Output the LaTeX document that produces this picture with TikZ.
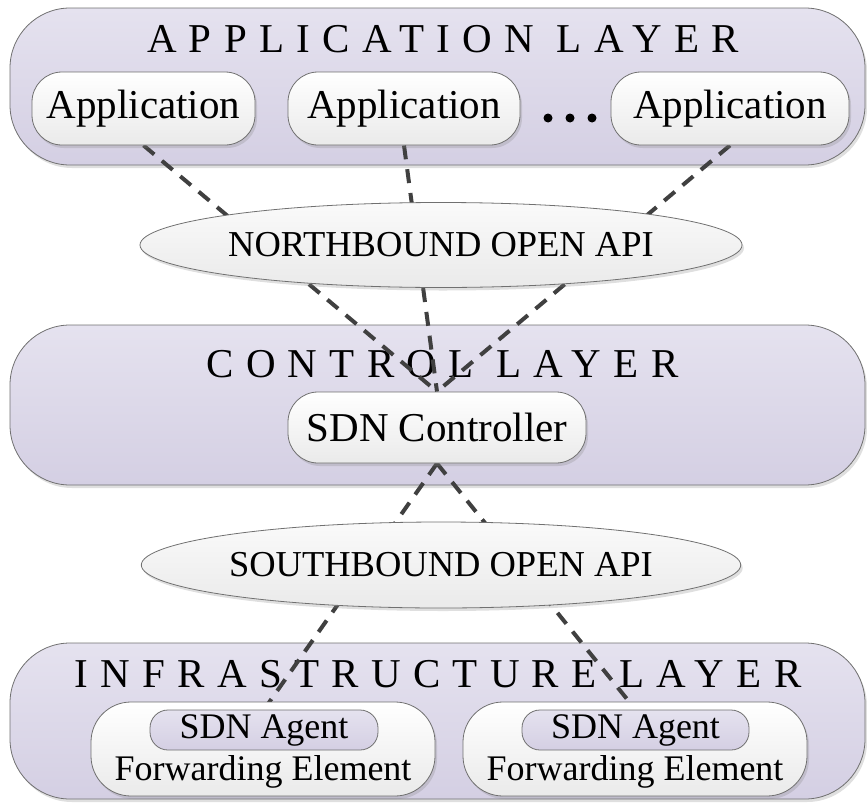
\documentclass[tikz,border=0pt]{standalone}
\usepackage{fontspec}
\setmainfont{Liberation Serif}
\usetikzlibrary{shapes.geometric, positioning, shadows}

\pgfdeclarelayer{bg}
\pgfdeclarelayer{links}
\pgfsetlayers{bg,links,main}

\definecolor{layertop}{RGB}{229,226,239}
\definecolor{layerbot}{RGB}{212,207,227}
\definecolor{edgegray}{RGB}{112,112,112}
\definecolor{pillbot}{RGB}{234,234,234}
\definecolor{ovaltop}{RGB}{250,250,250}
\definecolor{ovalbot}{RGB}{234,234,234}
\definecolor{linkgray}{RGB}{64,64,64}

\newcommand{\titlefont}{\fontsize{41}{45}\selectfont\addfontfeature{LetterSpace=30}}
\newcommand{\bigfont}{\fontsize{41}{45}\selectfont}
\newcommand{\apifont}{\fontsize{36.5}{40}\selectfont}
\newcommand{\fefont}{\fontsize{36}{40}\selectfont}

\begin{document}
\begin{tikzpicture}[
    x=1pt, y=-1pt,
    softshadow/.style={drop shadow={shadow xshift=2pt, shadow yshift=-3pt, opacity=0.25}},
    layer/.style={draw=edgegray, line width=0.8pt, rounded corners=60pt, minimum width=855pt, inner sep=0pt, top color=layertop, bottom color=layerbot, softshadow},
    title/.style={inner sep=0pt, font=\titlefont},
    pill/.style={draw=edgegray, line width=0.8pt, rounded corners=30pt, inner sep=0pt, minimum height=73pt, top color=white, bottom color=pillbot, font=\bigfont, softshadow},
    oval/.style={ellipse, draw=edgegray, line width=0.8pt, minimum width=575pt, minimum height=85pt, inner sep=0pt, top color=ovaltop, bottom color=ovalbot, font=\apifont, softshadow},
    fepill/.style={draw=edgegray, line width=0.8pt, rounded corners=40pt, inner sep=0pt, minimum width=344pt, minimum height=94pt, top color=white, bottom color=pillbot, softshadow},
    agent/.style={draw=edgegray, line width=0.8pt, rounded corners=18pt, inner sep=0pt, minimum width=228pt, minimum height=40pt, top color=layertop, bottom color=layerbot, font=\fefont},
    link/.style={draw=linkgray, line width=4pt, dash pattern=on 14pt off 10pt}
]
    \useasboundingbox (0,0) rectangle (867,803);

    % Layers
    \begin{pgfonlayer}{bg}
        \node[layer, minimum height=157pt] (applayer) at (437.5,86.5) {};
        \node[layer, minimum height=160pt] (ctrllayer) at (437.5,405) {};
        \node[layer, minimum height=156pt] (infralayer) at (437.5,721) {};
        \node[title] (apptitle) at (443,39) {APPLICATION LAYER};
        \node[title] (ctrltitle) at (442.5,364) {CONTROL LAYER};
        \node[title] (infratitle) at (438,674) {INFRASTRUCTURE LAYER};
    \end{pgfonlayer}

    % Applications
    \node[pill, minimum width=223pt] (app1) at (143.5,108.5) {Application};
    \node[pill, minimum width=232pt] (app2) at (404,108.5) {Application};
    \node[pill, minimum width=238pt] (app3) at (730,108.5) {Application};
    \foreach \dx in {548,570,592}
        \fill[black] (\dx,118) circle (4.5pt);

    % APIs and controller
    \node[oval] (north) at (441,245) {NORTHBOUND OPEN API};
    \node[pill, minimum width=298pt, minimum height=71pt] (ctrl) at (437,427.5) {SDN Controller};
    \node[oval, minimum height=86pt] (south) at (441,565) {SOUTHBOUND OPEN API};

    % Forwarding elements
    \node[fepill] (fe1) at (263,749) {};
    \node[fepill] (fe2) at (635,749) {};
    \node[agent] (agent1) at (264,730) {SDN Agent};
    \node[agent, minimum width=227pt] (agent2) at (635.5,730) {SDN Agent};
    \node[font=\fefont, inner sep=0pt, anchor=base] (fwd1) at (263,780) {Forwarding Element};
    \node[font=\fefont, inner sep=0pt, anchor=base] (fwd2) at (635,780) {Forwarding Element};

    % Connections
    \begin{pgfonlayer}{links}
        \draw[link] (app1.south) -- (ctrl.north);
        \draw[link] (app2.south) -- (ctrl.north);
        \draw[link] (app3.south) -- (ctrl.north);
        \draw[link] (ctrl.south) -- (agent1.north);
        \draw[link] (ctrl.south) -- (agent2.north);
    \end{pgfonlayer}
\end{tikzpicture}
\end{document}
